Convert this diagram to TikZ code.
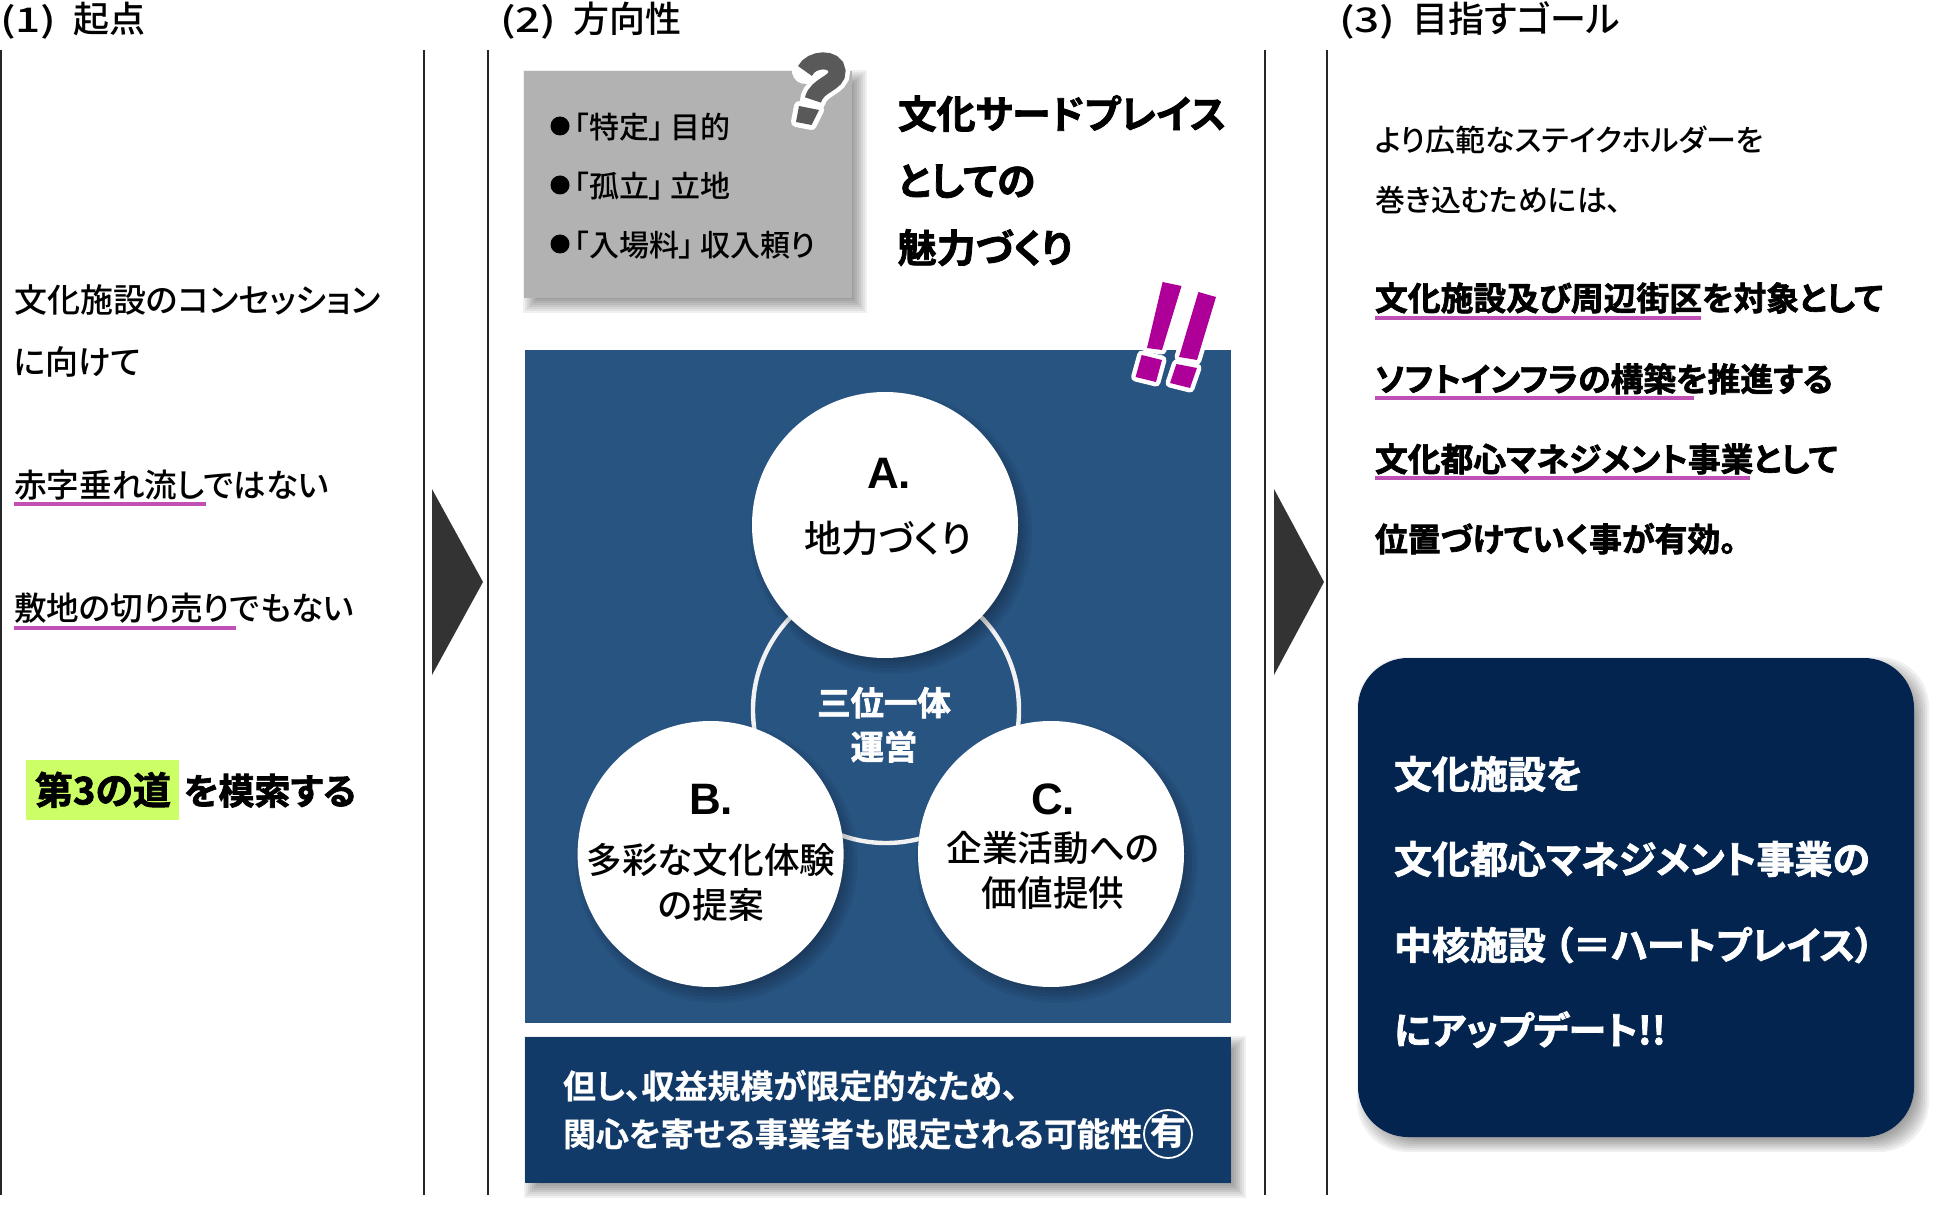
\documentclass[tikz,border=0pt]{standalone}
\usepackage{fontspec}
\newfontfamily\jpn[RawFeature={+palt}]{Noto Sans CJK JP Medium}
\newfontfamily\jpb[RawFeature={+palt},FakeBold=.6]{Noto Sans CJK JP Bold}
\newfontfamily\jph[RawFeature={+palt},FakeBold=2]{Noto Sans CJK JP Bold}
\newfontfamily\latb{Liberation Sans Bold}
\definecolor{uline}{HTML}{C04FB6}
\definecolor{panel}{HTML}{285482}
\definecolor{notebox}{HTML}{123A69}
\definecolor{goalbox}{HTML}{02244F}
\definecolor{graybox}{HTML}{B2B2B2}
\definecolor{mag}{HTML}{AE0098}
\definecolor{arrowc}{HTML}{333333}
\definecolor{hl}{HTML}{CCFF66}
\definecolor{qgray}{HTML}{595959}
\newcommand{\rectshadow}[5]{\foreach \sd in {-8,-6,...,8}
  {\fill[black,fill opacity=.06,rounded corners=#5] ({#1+7-\sd},{#2+7-\sd}) rectangle ({#3+7+\sd},{#4+7+\sd});}}
\newcommand{\circshadow}[3]{\foreach \sd in {-10,-7,...,10}
  {\fill[black,fill opacity=.05] ({#1+6},{#2+8}) circle ({#3+\sd});}}
\newcommand{\hnum}[1]{\scalebox{1.3}[1]{\fontsize{17}{17}\selectfont #1}\hspace{8.5pt}}
\tikzset{
  txt/.style={inner sep=0pt,outer sep=0pt,text height=1.24em,text depth=0pt,anchor=west},
  ctxt/.style={inner sep=0pt,outer sep=0pt,text height=1.24em,text depth=0pt,anchor=center},
  head/.style={inner sep=0pt,outer sep=0pt,anchor=base west,font=\jpn\fontsize{18}{20}\selectfont},
  lefttxt/.style={txt,font=\jpn\fontsize{16.5}{18}\selectfont},
  leftbold/.style={txt,font=\jph\fontsize{18}{20}\selectfont},
  grayt/.style={txt,font=\jpn\fontsize{15}{16}\selectfont},
  cultt/.style={txt,font=\jph\fontsize{19.4}{20}\selectfont},
  circt/.style={ctxt,font=\jpn\fontsize{17.8}{20}\selectfont},
  circl/.style={ctxt,font=\latb\fontsize{22}{24}\selectfont},
  trit/.style={ctxt,text=white,font=\jph\fontsize{16.7}{18}\selectfont},
  notet/.style={txt,text=white,font=\jpb\fontsize{16.5}{18}\selectfont},
  rightt/.style={txt,font=\jpn\fontsize{15}{16}\selectfont},
  rightb/.style={txt,font=\jph\fontsize{16.4}{18}\selectfont},
  goalt/.style={txt,text=white,font=\jph\fontsize{19}{20}\selectfont},
  vline/.style={draw=black!85,line width=.7pt},
  ubar/.style={draw=uline,line width=2.3pt},
  bigarrow/.style={fill=arrowc,draw=none},
}
\begin{document}
\begin{tikzpicture}[x=.5pt,y=-.5pt]
\useasboundingbox (0,0) rectangle (1950,1214);
% column rules
\foreach \xx/\nm in {1/a,424/b,488/c,1265/d,1327/e}{
  \coordinate (r\nm t) at (\xx,50);
  \coordinate (r\nm b) at (\xx,1195);
  \draw[vline] (r\nm t) -- (r\nm b);
}
% headers
\node[head] (h1) at (0,33) {\hnum{(1)}起点};
\node[head] (h2) at (500,33) {\hnum{(2)}方向性};
\node[head] (h3) at (1339,33) {\hnum{(3)}目指すゴール};
% left column
\node[lefttxt] (l1) at (14,300) {文化施設のコンセッション};
\node[lefttxt] (l2) at (14,362) {に向けて};
\node[lefttxt,font=\jpn\fontsize{16.3}{18}\selectfont] (l3) at (14,485) {赤字垂れ流しではない};
\node[lefttxt,font=\jpn\fontsize{16.3}{18}\selectfont] (l4) at (14,608) {敷地の切り売りでもない};
\draw[ubar] (13.5,504) -- (206,504);
\draw[ubar] (13.5,628) -- (236,628);
\fill[hl] (26,760) rectangle (179,820);
\node[leftbold,font=\jph\fontsize{19}{20}\selectfont] (l5) at (35,792) {第3の道};
\node[leftbold] (l6) at (184,792) {を模索する};
% arrows
\fill[bigarrow] (432,489) -- (483,582) -- (432,675) -- cycle;
\fill[bigarrow] (1274,489) -- (1324,582) -- (1274,675) -- cycle;
% gray box
\rectshadow{523.5}{71}{852}{298}{0pt}
\fill[graybox] (523.5,71) rectangle (852,298);
\fill[black] (560,126) circle (9.5);
\fill[black] (560,185) circle (9.5);
\fill[black] (560,244) circle (9.5);
\node[grayt] (g1) at (574,126) {「特定」\hspace{3pt}目的};
\node[grayt] (g2) at (574,185) {「孤立」\hspace{3pt}立地};
\node[grayt] (g3) at (574,244) {「入場料」\hspace{3pt}収入頼り};
% question mark
\begin{scope}
 \draw[white,line width=13pt,line cap=round]
   (805,71) .. controls (811,58) and (836,57) .. (837,71) .. controls (838,84) and (817,84) .. (813,100);
 \fill[white,draw=white,line width=5pt,line join=round] (799,106) -- (819,110) -- (811.6,125) -- (796,122) -- cycle;
 \draw[qgray,line width=8.5pt]
   (805,71) .. controls (811,58) and (836,57) .. (837,71) .. controls (838,84) and (817,84) .. (813,100);
 \fill[qgray] (799,106) -- (819,110) -- (811.6,125) -- (796,122) -- cycle;
\end{scope}
% culture title
\node[cultt] (t1) at (898,116) {文化サードプレイス};
\node[cultt] (t2) at (898,183) {としての};
\node[cultt] (t3) at (898,250) {魅力づくり};
% blue panel
\fill[panel] (525,350) rectangle (1230.5,1023);
% exclamation marks
\begin{scope}[line join=round]
 \filldraw[white,draw=white,line width=4.5pt] (1141.7,355) -- (1162,360) -- (1156,382) -- (1135.6,377) -- cycle;
 \filldraw[white,draw=white,line width=4.5pt] (1176.4,364) -- (1197,368) -- (1190,388) -- (1170,383) -- cycle;
 \filldraw[white,draw=white,line width=4.5pt] (1162.6,282) -- (1181.5,286) -- (1162,350) -- (1147,348) -- cycle;
 \filldraw[white,draw=white,line width=4.5pt] (1198.4,292) -- (1216,297) -- (1197,360) -- (1179,357) -- cycle;
 \fill[mag] (1141.7,355) -- (1162,360) -- (1156,382) -- (1135.6,377) -- cycle;
 \fill[mag] (1176.4,364) -- (1197,368) -- (1190,388) -- (1170,383) -- cycle;
 \fill[mag] (1162.6,282) -- (1181.5,286) -- (1162,350) -- (1147,348) -- cycle;
 \fill[mag] (1198.4,292) -- (1216,297) -- (1197,360) -- (1179,357) -- cycle;
\end{scope}
% ring
\node[draw=white!95!black,line width=2.2pt,circle,minimum size=133pt,inner sep=0pt] (ring) at (886,710) {};
% circles
\circshadow{885}{525}{133}
\fill[white] (885,525) circle (133);
\circshadow{710.6}{854}{133}
\fill[white] (710.6,854) circle (133);
\circshadow{1051}{854}{133}
\fill[white] (1051,854) circle (133);
\node[circl] (ca) at (889,476) {A.};
\node[circt,font=\jpn\fontsize{18.6}{20}\selectfont] (ca2) at (888,540) {地力づくり};
\node[circl] (cb) at (711,802) {B.};
\node[circt] (cb2) at (711,861) {多彩な文化体験};
\node[circt] (cb3) at (711,906) {の提案};
\node[circl] (cc) at (1053,802) {C.};
\node[circt] (cc2) at (1053,849) {企業活動への};
\node[circt] (cc3) at (1053,894) {価値提供};
\node[trit] (tr1) at (884,703) {三位一体};
\node[trit] (tr2) at (884,747) {運営};
% note
\rectshadow{525}{1037}{1230.5}{1183}{0pt}
\fill[notebox] (525,1037) rectangle (1230.5,1183);
\node[notet] (n1) at (563,1086) {但し、収益規模が限定的なため、};
\node[notet] (n2) at (563,1134) {関心を寄せる事業者も限定される可能性};
\node[draw=white,line width=.9pt,circle,minimum size=24pt,inner sep=0pt,text=white,text height=1.06em,text depth=0pt,font=\jpb\fontsize{18}{18}\selectfont] (n3) at (1168,1134) {有};
% right column
\node[rightt] (r1) at (1375,139) {より広範なステイクホルダーを};
\node[rightt] (r2) at (1375,199) {巻き込むためには、};
\node[rightb] (r3) at (1375,298) {文化施設及び周辺街区を対象として};
\node[rightb] (r4) at (1375,379) {ソフトインフラの構築を推進する};
\node[rightb] (r5) at (1375,459) {文化都心マネジメント事業として};
\node[rightb] (r6) at (1375,539) {位置づけていく事が有効。};
\draw[ubar] (1375,318) -- (1701,318);
\draw[ubar] (1375,398) -- (1694,398);
\draw[ubar] (1375,478) -- (1750,478);
% goal box
\rectshadow{1358}{658}{1914}{1137}{25pt}
\fill[goalbox,rounded corners=25pt] (1358,658) rectangle (1914,1137);
\node[goalt] (q1) at (1394,776) {文化施設を};
\node[goalt] (q2) at (1394,861) {文化都心マネジメント事業の};
\node[goalt] (q3) at (1394,947) {中核施設\hspace{4pt}（＝ハートプレイス）};
\node[goalt] (q4) at (1394,1032) {にアップデート!!};
\end{tikzpicture}
\end{document}
